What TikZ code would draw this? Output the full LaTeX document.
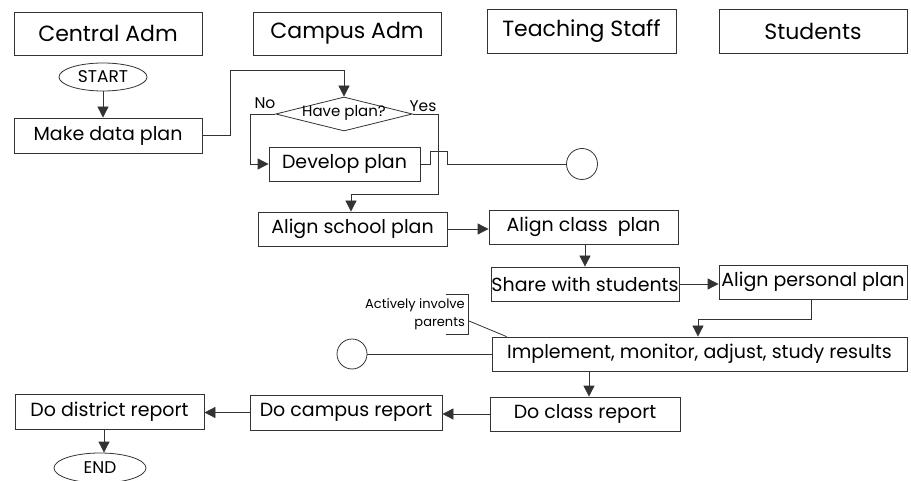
\documentclass[tikz,border=0pt]{standalone}
\usepackage{fontspec}
\setmainfont{Poppins}
\usetikzlibrary{arrows.meta,shapes.geometric}

\begin{document}
\begin{tikzpicture}[x=1pt,y=-1pt,
    lane/.style={draw=black!80,line width=0.8pt,minimum width=188pt,minimum height=43pt,inner sep=0pt,font=\fontsize{22}{24}\selectfont},
    box/.style={draw=black!80,line width=0.8pt,minimum height=34pt,inner sep=0pt,font=\fontsize{19}{21}\selectfont},
    term/.style={draw=black!80,ellipse,line width=0.8pt,inner sep=0pt,font=\fontsize{17}{19}\selectfont},
    test/.style={draw=black!80,diamond,line width=0.8pt,inner sep=0pt,aspect=5.3,text height=8pt,text depth=2pt,minimum width=134pt,minimum height=34pt,font=\fontsize{15}{17}\selectfont},
    sink/.style={draw=black!80,circle,line width=0.8pt,minimum size=31pt,inner sep=0pt},
    flow/.style={draw=black!80,line width=0.8pt},
    arr/.style={flow,-{Triangle[length=11pt,width=11pt]}}]
  \useasboundingbox (0,0) rectangle (911,481);

  % lanes
  \node[lane] (central) at (108,33.5) {Central Adm};
  \node[lane] (campus) at (347,33.5) {Campus Adm};
  \node[lane,minimum width=189pt,minimum height=44pt] (staff) at (581.5,31) {Teaching Staff};
  \node[lane,minimum height=44pt] (students) at (813,31) {Students};

  % steps
  \node[term,minimum width=88pt,minimum height=28pt] (start) at (103,77) {START};
  \node[box,minimum width=188pt,minimum height=35pt] (makeplan) at (108,135.5) {Make data plan};
  \node[test] (haveplan) at (344,114) {Have plan?};
  \node[font=\fontsize{15.5}{17}\selectfont,inner sep=0pt] (no) at (265,103) {No};
  \node[font=\fontsize{15.5}{17}\selectfont,inner sep=0pt] (yes) at (423,106) {Yes};
  \node[box,minimum width=151pt] (develop) at (344.5,164) {Develop plan};
  \node[sink] (outA) at (582,164) {};
  \node[box,minimum width=189pt] (school) at (352.5,229) {Align school plan};
  \node[box,minimum width=189pt] (class) at (583.5,227) {Align class\ \ plan};
  \node[box,minimum width=188pt] (share) at (585,284) {Share with students};
  \node[box,minimum width=188pt] (personal) at (813,282) {Align personal plan};
  \node[box,minimum width=415pt] (implement) at (699.5,354) {Implement, monitor, adjust, study results};
  \node[sink,minimum size=30pt] (outB) at (352,354) {};
  \node[box,minimum width=190pt] (classrep) at (585,414) {Do class report};
  \node[box,minimum width=192pt,minimum height=35pt] (campusrep) at (346,412.5) {Do campus report};
  \node[box,minimum width=189pt,minimum height=35pt] (districtrep) at (109.5,411.5) {Do district report};
  \node[term,minimum width=92pt,minimum height=30pt] (end) at (100,468) {END};

  % note
  \node[anchor=east,align=right,inner sep=0pt,font=\fontsize{13}{18}\selectfont] (parents) at (465,314) {Actively involve\\parents};
  \draw[flow] (446,294) -- (468,294) -- (468,334) -- (446,334);
  \coordinate (note) at (469,321);
  \draw[flow] (note) -- ([xshift=15pt]implement.north west);

  % connectors
  \draw[arr] (start.south) -- (start.south |- makeplan.north);
  \draw[arr] (makeplan.east) -- ++(28,0) -- ++(0,-65) -| (haveplan.north);
  \draw[arr] (haveplan.west) -- ++(-25,0) |- (develop.west);
  \draw[arr] (haveplan.east) -- ++(26,0) -- ++(0,80) -| ([xshift=-1.5pt]school.north);
  \draw[flow] (develop.east) -- ++(10,0) -- ++(0,-13) -- ++(17,0) -- ++(0,13) -- (outA.west);
  \draw[arr] (school.east) -- (school.east -| class.west);
  \draw[arr] ([xshift=1.5pt]class.south) -- ([xshift=1.5pt]class.south |- share.north);
  \draw[arr] (share.east) -- (share.east -| personal.west);
  \draw[arr] ([xshift=-2pt]personal.south) -- ++(0,20) -| ([xshift=-1.5pt]implement.north);
  \draw[flow] (implement.west) -- (outB.east);
  \draw[arr] ([xshift=4pt]classrep.north |- implement.south) -- ([xshift=4pt]classrep.north);
  \draw[arr] (classrep.west) -- (classrep.west -| campusrep.east);
  \draw[arr] (campusrep.west) -- (campusrep.west -| districtrep.east);
  \draw[arr] ([xshift=-5.5pt]districtrep.south) -- ([xshift=-5.5pt]districtrep.south |- end.north);
\end{tikzpicture}
\end{document}
